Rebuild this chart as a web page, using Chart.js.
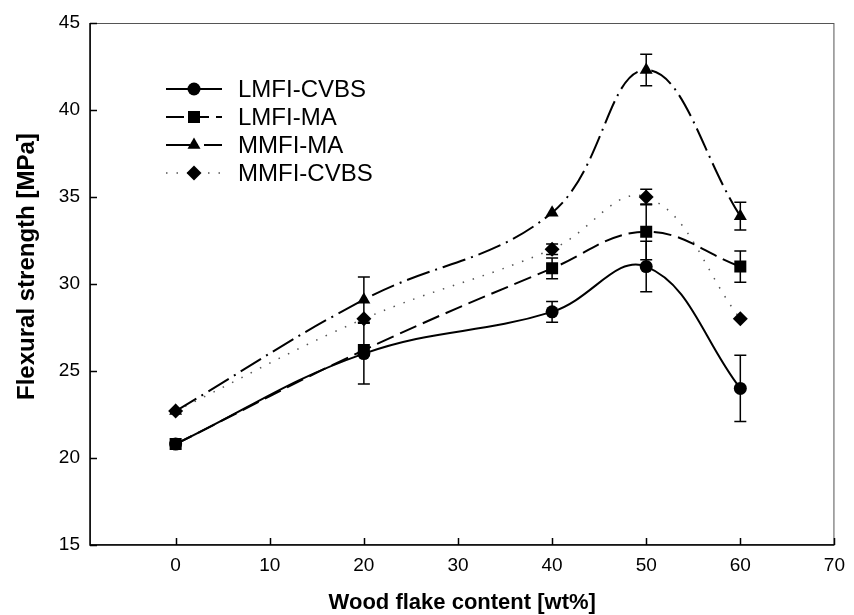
<!DOCTYPE html>
<html>
<head>
<meta charset="utf-8">
<script src="https://cdn.jsdelivr.net/npm/chart.js@4.4.1/dist/chart.umd.min.js"></script>
<style>
  html, body { margin: 0; padding: 0; background: #fff; }
  #wrap { width: 854px; height: 615px; }
</style>
</head>
<body>
<div id="wrap"><canvas id="c" width="854" height="615"></canvas></div>
<script>
// Wood flake content (wt%)
const flakeContent = [0, 20, 40, 50, 60];

// Flexural strength (MPa) and standard deviations per formulation
const lmfiCvbs    = [20.8, 26.0, 28.4, 31.0, 24.0];
const lmfiCvbsErr = [0, 1.75, 0.6, 1.45, 1.9];
const lmfiMa      = [20.8, 26.2, 30.9, 33.0, 31.0];
const lmfiMaErr   = [0, 0, 0.6, 1.6, 0.9];
const mmfiMa      = [22.7, 29.1, 34.1, 42.3, 33.9];
const mmfiMaErr   = [0, 1.3, 0, 0.9, 0.8];
const mmfiCvbs    = [22.7, 28.0, 32.0, 35.0, 28.0];
const mmfiCvbsErr = [0, 0, 0.3, 0.45, 0];

const seriesNames = ['LMFI-CVBS', 'LMFI-MA', 'MMFI-MA', 'MMFI-CVBS'];
const xTicks = [0, 10, 20, 30, 40, 50, 60, 70];
const yTicks = [15, 20, 25, 30, 35, 40, 45];
const yTitle = 'Flexural strength [MPa]';

const FONT = "'Liberation Sans', Arial, Helvetica, sans-serif";

function pts(ys) { return flakeContent.map((x, i) => ({ x: x, y: ys[i] })); }

const styles = [
  { pointStyle: 'circle',   pointRadius: 6.5, borderDash: [],            borderWidth: 2,   borderColor: '#000' },
  { pointStyle: 'rect',     pointRadius: 8.5, borderDash: [18, 7],       borderWidth: 2,   borderColor: '#000' },
  { pointStyle: 'triangle', pointRadius: 7.5, borderDash: [24, 6, 2, 6], borderWidth: 2,   borderColor: '#000' },
  { pointStyle: 'rectRot',  pointRadius: 7.5, borderDash: [1.5, 9],      borderWidth: 1.5, borderColor: '#555' }
];
const values = [lmfiCvbs, lmfiMa, mmfiMa, mmfiCvbs];
const errors = [lmfiCvbsErr, lmfiMaErr, mmfiMaErr, mmfiCvbsErr];

const datasets = values.map((v, i) => ({
  label: seriesNames[i],
  data: pts(v),
  errors: errors[i],
  borderColor: styles[i].borderColor,
  borderWidth: styles[i].borderWidth,
  borderDash: styles[i].borderDash,
  backgroundColor: '#000',
  pointBackgroundColor: '#000',
  pointBorderColor: '#000',
  pointBorderWidth: 0,
  pointStyle: styles[i].pointStyle,
  pointRadius: styles[i].pointRadius,
  tension: 0.4,
  fill: false
}));

// Error bars drawn with the chart's own scales
const errorBars = {
  id: 'errorBars',
  afterDatasetsDraw(chart) {
    const ctx = chart.ctx, xs = chart.scales.x, ys = chart.scales.y;
    ctx.save();
    ctx.strokeStyle = '#000';
    ctx.lineWidth = 1.5;
    ctx.setLineDash([]);
    chart.data.datasets.forEach(ds => {
      ds.data.forEach((p, i) => {
        const e = ds.errors[i];
        if (!e) return;
        const px = xs.getPixelForValue(p.x);
        const top = ys.getPixelForValue(p.y + e);
        const bot = ys.getPixelForValue(p.y - e);
        ctx.beginPath();
        ctx.moveTo(px, top); ctx.lineTo(px, bot);
        ctx.moveTo(px - 6, top); ctx.lineTo(px + 6, top);
        ctx.moveTo(px - 6, bot); ctx.lineTo(px + 6, bot);
        ctx.stroke();
      });
    });
    ctx.restore();
  }
};

// Plot frame with inward tick marks, plus the vertical axis title
const frame = {
  id: 'frame',
  afterDraw(chart) {
    const ctx = chart.ctx, a = chart.chartArea, xs = chart.scales.x, ys = chart.scales.y;
    ctx.save();
    ctx.setLineDash([]);
    ctx.strokeStyle = '#555';
    ctx.lineWidth = 1;
    ctx.strokeRect(a.left + 0.5, a.top + 0.5, a.right - a.left - 1, a.bottom - a.top - 1);
    ctx.strokeStyle = '#000';
    ctx.lineWidth = 1.5;
    ctx.beginPath();
    ctx.moveTo(a.left, a.top); ctx.lineTo(a.left, a.bottom); ctx.lineTo(a.right, a.bottom);
    xTicks.forEach(t => {
      const px = Math.round(xs.getPixelForValue(t)) + 0.5;
      ctx.moveTo(px, a.bottom); ctx.lineTo(px, a.bottom - 7);
    });
    yTicks.forEach(t => {
      const py = Math.round(ys.getPixelForValue(t)) + 0.5;
      ctx.moveTo(a.left, py); ctx.lineTo(a.left + 7, py);
    });
    ctx.stroke();

    // vertical axis title, centred near the 31 MPa level
    ctx.translate(27, ys.getPixelForValue(31));
    ctx.rotate(-Math.PI / 2);
    ctx.fillStyle = '#000';
    ctx.font = 'bold 24px ' + FONT;
    ctx.textAlign = 'center';
    ctx.textBaseline = 'middle';
    ctx.fillText(yTitle, 0, 0);
    ctx.restore();
  }
};

// Legend: line sample with its marker, then the series name
const legendBox = {
  id: 'legendBox',
  afterDraw(chart) {
    const ctx = chart.ctx;
    const x0 = 166, x1 = 222, xm = 194, tx = 238, y0 = 89, dy = 28;
    ctx.save();
    chart.data.datasets.forEach((ds, i) => {
      const y = y0 + i * dy;
      ctx.strokeStyle = ds.borderColor;
      ctx.lineWidth = ds.borderWidth;
      ctx.setLineDash(ds.borderDash);
      ctx.beginPath();
      ctx.moveTo(x0, y); ctx.lineTo(x1, y);
      ctx.stroke();
      ctx.setLineDash([]);
      ctx.fillStyle = '#000';
      ctx.strokeStyle = '#000';
      Chart.helpers.drawPoint(ctx, { pointStyle: ds.pointStyle, radius: ds.pointRadius, borderWidth: 0, rotation: 0 }, xm, y);
      ctx.fillStyle = '#000';
      ctx.font = '24px ' + FONT;
      ctx.textBaseline = 'middle';
      ctx.textAlign = 'left';
      ctx.fillText(ds.label, tx, y + 1);
    });
    ctx.restore();
  }
};

new Chart(document.getElementById('c'), {
  type: 'line',
  data: { datasets: datasets },
  options: {
    responsive: false,
    animation: false,
    layout: { padding: { left: 0, right: 12, top: 23, bottom: 0 } },
    plugins: { legend: { display: false }, tooltip: { enabled: false } },
    scales: {
      x: {
        type: 'linear',
        min: -9.1,
        max: 70,
        afterBuildTicks(s) { s.ticks = xTicks.map(v => ({ value: v })); },
        afterFit(s) { s.height = 70; },
        grid: { display: false, drawTicks: false },
        border: { display: false },
        ticks: { color: '#000', padding: 9, font: { family: FONT, size: 19 } },
        title: {
          display: true,
          text: 'Wood flake content [wt%]',
          color: '#000',
          font: { family: FONT, size: 22, weight: 'bold', lineHeight: 1.1 },
          padding: { top: 0, bottom: 0 }
        }
      },
      y: {
        min: 15,
        max: 45,
        afterBuildTicks(s) { s.ticks = yTicks.map(v => ({ value: v })); },
        afterFit(s) { s.width = 90; },
        grid: { display: false, drawTicks: false },
        border: { display: false },
        ticks: { color: '#000', padding: 10, font: { family: FONT, size: 19 } },
        title: { display: false }
      }
    }
  },
  plugins: [errorBars, frame, legendBox]
});
</script>
</body>
</html>
